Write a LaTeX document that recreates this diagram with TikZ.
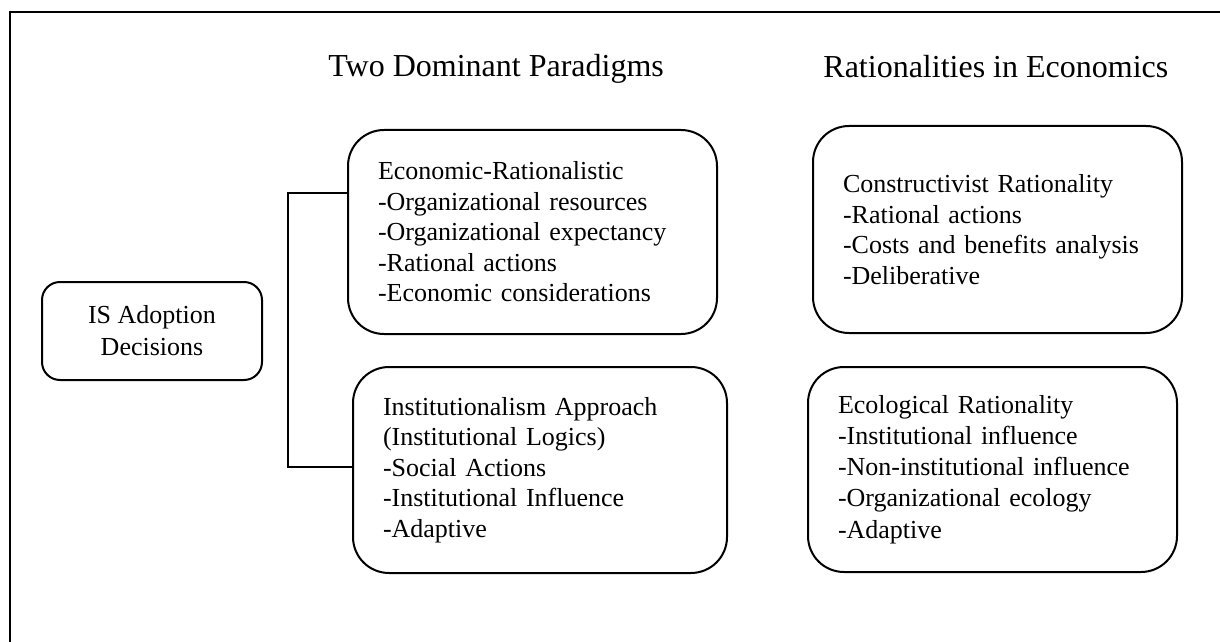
\documentclass[tikz,border=0pt]{standalone}
\usepackage{fontspec}
\setmainfont{Liberation Serif}
\begin{document}
\begin{tikzpicture}[x=0.5pt,y=-0.5pt,
  box/.style={draw, line width=1pt, rounded corners=18pt, inner xsep=15pt, inner ysep=0pt,
              align=left, font=\fontsize{13}{15.25}\selectfont},
  bigbox/.style={box, text width=154.5pt, minimum width=184.5pt},
  title/.style={anchor=base west, inner sep=0pt, font=\fontsize{16}{19}\selectfont},
  link/.style={line width=1pt}]
\useasboundingbox (0,0) rectangle (1220,642);
\fill[white] (0,0) rectangle (1220,642);
\draw[line width=1.1pt] (10,642) -- (10,12) -- (1220,12);

\node[title] (t1) at (328,77) {Two Dominant Paradigms};
\node[title] (t2) at (823,78) {Rationalities in Economics};

\node[box, rounded corners=9pt, align=center, inner xsep=0pt, minimum width=110pt,
      minimum height=49pt, font=\fontsize{13}{16}\selectfont] (is) at (152,331)
      {IS Adoption\\Decisions};

\node[bigbox, minimum height=102pt] (econ) at (532.5,232)
  {Economic-Rationalistic\\-Organizational resources\\-Organizational expectancy\\-Rational actions\\-Economic considerations};
\node[bigbox, text width=157pt, minimum width=187pt, minimum height=103pt] (inst) at (540,470)
  {Institutionalism Approach\\(Institutional Logics)\\-Social Actions\\-Institutional Influence\\-Adaptive};
\node[bigbox, minimum height=103.5pt] (cons) at (997.5,229.5)
  {Constructivist Rationality\\-Rational actions\\-Costs and benefits analysis\\-Deliberative};
\node[bigbox, minimum height=102.5pt, font=\fontsize{13}{15.6}\selectfont] (eco) at (992.5,469.5)
  {Ecological Rationality\\-Institutional influence\\-Non-institutional influence\\-Organizational ecology\\-Adaptive};

\coordinate (bt) at (288,193);
\coordinate (bb) at (288,467);
\draw[link] (econ.west |- bt) -- (bt) -- (bb) -- (inst.west |- bb);
\end{tikzpicture}
\end{document}
